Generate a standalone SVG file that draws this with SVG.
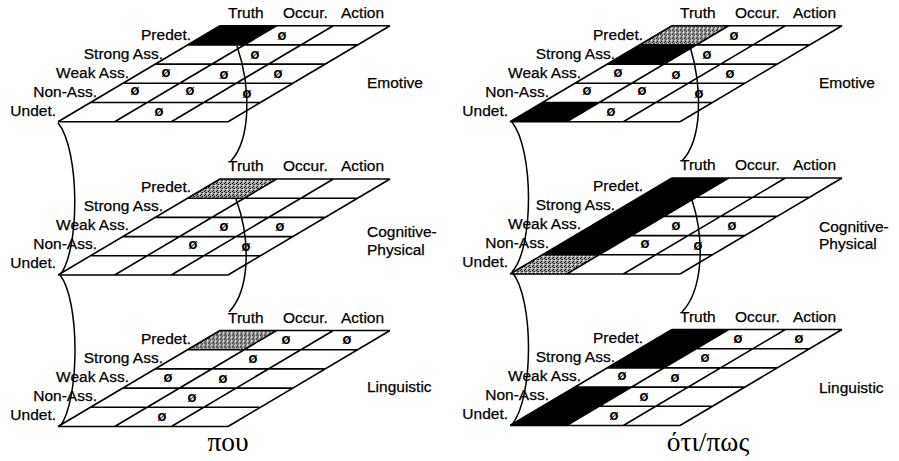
<svg xmlns="http://www.w3.org/2000/svg" xmlns:xlink="http://www.w3.org/1999/xlink" width="899" height="461" viewBox="0 0 899 461">
<style>
  .t { font-family: "Liberation Sans", Arial, sans-serif; font-size: 15.5px; fill: #000; stroke: #000; stroke-width: 0.25; }
  .row { text-anchor: end; }
  .z { font-family: "DejaVu Sans", sans-serif; font-size: 10.5px; font-weight: bold; text-anchor: middle; fill: #000; }
  .blk { fill: #000; }
  .gry { fill: url(#stip); }
  .conn { fill: none; stroke: #000; stroke-width: 1.5; }
  .greek { font-family: "Liberation Serif", "DejaVu Serif", serif; font-size: 27.5px; text-anchor: middle; fill: #000; }
</style>
<defs>
  <pattern id="stip" width="4" height="4" patternUnits="userSpaceOnUse">
    <rect width="4" height="4" fill="#a8a8a8"/>
    <rect x="0" y="0" width="1" height="1" fill="#000"/>
    <rect x="2" y="1" width="1" height="1" fill="#222"/>
    <rect x="1" y="3" width="1" height="1" fill="#000"/>
    <rect x="3" y="2" width="1" height="1" fill="#fff"/>
    <rect x="1" y="1" width="1" height="1" fill="#555"/>
  </pattern>
  <g id="grid">
    <path fill="none" stroke="#000" stroke-width="1.6" d="M0,0H170 M-32.4,19.2H137.6 M-64.8,38.4H105.2 M-97.2,57.6H72.8 M-129.6,76.8H40.4 M-162,96H8 M0,0L-162,96 M56.67,0L-105.33,96 M113.33,0L-48.67,96 M170,0L8,96"/>
  </g>
  <g id="heads">
    <text class="t" x="8" y="-8">Truth</text>
    <text class="t" x="63" y="-8">Occur.</text>
    <text class="t" x="121" y="-8">Action</text>
  </g>
</defs>

<!-- connectors -->
<g id="connectors">
  <path class="conn" d="M58,122.7 C80,150 80,250 60,275"/>
  <path class="conn" d="M60,275 C80,300 80,400 60,426.5"/>
  <path class="conn" d="M237,46 C252,90 250,140 231,161"/>
  <path class="conn" d="M236,199 C251,240 250,290 229,312"/>
  <path class="conn" d="M512,122 C534,150 534,248 512,272"/>
  <path class="conn" d="M512,272 C534,298 534,398 512,424.5"/>
  <path class="conn" d="M690,46 C703,90 702,140 682,161"/>
  <path class="conn" d="M692,200 C705,240 703,290 682,312"/>
</g>

<!-- LEFT: pou -->
<g id="pou-emotive" transform="translate(220,25.7)">
  <polygon class="blk" points="0,0 56.67,0 24.27,19.2 -32.4,19.2"/>
  <use xlink:href="#grid"/>
  <use xlink:href="#heads"/>
  <text class="t row" x="-29" y="14">Predet.</text>
  <text class="t row" x="-57" y="33">Strong Ass.</text>
  <text class="t row" x="-91" y="52">Weak Ass.</text>
  <text class="t row" x="-123" y="71">Non-Ass.</text>
  <text class="t row" x="-164" y="90">Undet.</text>
  <text class="t" x="147" y="62">Emotive</text>
  <text class="z" x="62" y="14.5">Ø</text>
  <text class="z" x="35" y="33.5">Ø</text>
  <text class="z" x="-54" y="51.5">Ø</text>
  <text class="z" x="4" y="53">Ø</text>
  <text class="z" x="58" y="52.5">Ø</text>
  <text class="z" x="-85" y="69.5">Ø</text>
  <text class="z" x="-30" y="69.5">Ø</text>
  <text class="z" x="27" y="72">Ø</text>
  <text class="z" x="-61" y="90.5">Ø</text>
</g>

<g id="pou-cognitive" transform="translate(220,179)">
  <polygon class="gry" points="0,0 56.67,0 24.27,19.2 -32.4,19.2"/>
  <use xlink:href="#grid"/>
  <use xlink:href="#heads"/>
  <text class="t row" x="-29" y="13">Predet.</text>
  <text class="t row" x="-57" y="32">Strong Ass.</text>
  <text class="t row" x="-91" y="51">Weak Ass.</text>
  <text class="t row" x="-123" y="70">Non-Ass.</text>
  <text class="t row" x="-164" y="89">Undet.</text>
  <text class="t" x="147" y="58">Cognitive-</text>
  <text class="t" x="147" y="76">Physical</text>
  <text class="z" x="4" y="51.5">Ø</text>
  <text class="z" x="60" y="51.5">Ø</text>
  <text class="z" x="-27" y="69.5">Ø</text>
  <text class="z" x="26" y="71.5">Ø</text>
</g>

<g id="pou-linguistic" transform="translate(220,330.5)">
  <polygon class="gry" points="0,0 56.67,0 24.27,19.2 -32.4,19.2"/>
  <use xlink:href="#grid"/>
  <use xlink:href="#heads"/>
  <text class="t row" x="-29" y="13">Predet.</text>
  <text class="t row" x="-57" y="32">Strong Ass.</text>
  <text class="t row" x="-91" y="51">Weak Ass.</text>
  <text class="t row" x="-123" y="70">Non-Ass.</text>
  <text class="t row" x="-164" y="89">Undet.</text>
  <text class="t" x="147" y="61">Linguistic</text>
  <text class="z" x="66" y="13">Ø</text>
  <text class="z" x="127" y="13">Ø</text>
  <text class="z" x="33" y="32.5">Ø</text>
  <text class="z" x="-52" y="51.5">Ø</text>
  <text class="z" x="3" y="52.5">Ø</text>
  <text class="z" x="-28" y="71">Ø</text>
  <text class="z" x="-58" y="90">Ø</text>
</g>

<!-- RIGHT: oti/pos -->
<g id="oti-emotive" transform="translate(672,25.7)">
  <polygon class="gry" points="0,0 56.67,0 24.27,19.2 -32.4,19.2"/>
  <polygon class="blk" points="-32.4,19.2 24.27,19.2 -8.13,38.4 -64.8,38.4"/>
  <polygon class="blk" points="-129.6,76.8 -72.93,76.8 -105.33,96 -162,96"/>
  <use xlink:href="#grid"/>
  <use xlink:href="#heads"/>
  <text class="t row" x="-29" y="14">Predet.</text>
  <text class="t row" x="-57" y="33">Strong Ass.</text>
  <text class="t row" x="-91" y="52">Weak Ass.</text>
  <text class="t row" x="-123" y="71">Non-Ass.</text>
  <text class="t row" x="-164" y="90">Undet.</text>
  <text class="t" x="147" y="62">Emotive</text>
  <text class="z" x="62" y="14.5">Ø</text>
  <text class="z" x="35" y="33.5">Ø</text>
  <text class="z" x="-54" y="51.5">Ø</text>
  <text class="z" x="4" y="53">Ø</text>
  <text class="z" x="58" y="52.5">Ø</text>
  <text class="z" x="-85" y="69.5">Ø</text>
  <text class="z" x="-30" y="69.5">Ø</text>
  <text class="z" x="27" y="72">Ø</text>
  <text class="z" x="-61" y="90.5">Ø</text>
</g>

<g id="oti-cognitive" transform="translate(672,178)">
  <polygon class="blk" points="0,0 56.67,0 -72.93,76.8 -129.6,76.8"/>
  <polygon class="gry" points="-129.6,76.8 -72.93,76.8 -105.33,96 -162,96"/>
  <use xlink:href="#grid"/>
  <use xlink:href="#heads"/>
  <text class="t row" x="-29" y="13">Predet.</text>
  <text class="t row" x="-57" y="32">Strong Ass.</text>
  <text class="t row" x="-91" y="51">Weak Ass.</text>
  <text class="t row" x="-123" y="70">Non-Ass.</text>
  <text class="t row" x="-164" y="89">Undet.</text>
  <text class="t" x="147" y="54">Cognitive-</text>
  <text class="t" x="147" y="71">Physical</text>
  <text class="z" x="4" y="51.5">Ø</text>
  <text class="z" x="60" y="51.5">Ø</text>
  <text class="z" x="-27" y="69.5">Ø</text>
  <text class="z" x="26" y="71.5">Ø</text>
</g>

<g id="oti-linguistic" transform="translate(672,329.5)">
  <polygon class="blk" points="0,0 56.67,0 -8.13,38.4 -64.8,38.4"/>
  <polygon class="blk" points="-97.2,57.6 -40.53,57.6 -105.33,96 -162,96"/>
  <use xlink:href="#grid"/>
  <use xlink:href="#heads"/>
  <text class="t row" x="-29" y="13">Predet.</text>
  <text class="t row" x="-57" y="32">Strong Ass.</text>
  <text class="t row" x="-91" y="51">Weak Ass.</text>
  <text class="t row" x="-123" y="70">Non-Ass.</text>
  <text class="t row" x="-164" y="89">Undet.</text>
  <text class="t" x="147" y="63">Linguistic</text>
  <text class="z" x="66" y="13">Ø</text>
  <text class="z" x="127" y="13">Ø</text>
  <text class="z" x="33" y="32.5">Ø</text>
  <text class="z" x="-50" y="50">Ø</text>
  <text class="z" x="3" y="52.5">Ø</text>
  <text class="z" x="-28" y="71">Ø</text>
  <text class="z" x="-58" y="90">Ø</text>
</g>

<text id="label-pou" class="greek" x="228" y="451">που</text>
<text id="label-oti" class="greek" x="708" y="451">ότι/πως</text>
</svg>
